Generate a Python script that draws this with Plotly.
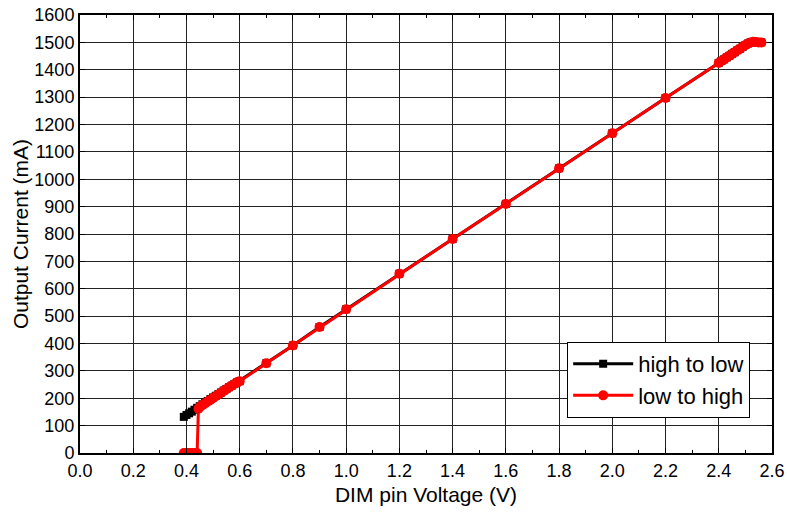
import plotly.graph_objects as go

# high to low sweep (black squares)
v_hl = [2.56, 2.55, 2.54, 2.53, 2.52, 2.51, 2.50, 2.49, 2.48, 2.47, 2.46, 2.45, 2.44, 2.43, 2.42, 2.41, 2.40,
        2.2, 2.0, 1.8, 1.6, 1.4, 1.2, 1.0, 0.9, 0.8, 0.7, 0.6,
        0.59, 0.58, 0.57, 0.56, 0.55, 0.54, 0.53, 0.52, 0.51, 0.50, 0.49, 0.48, 0.47, 0.46, 0.45, 0.44,
        0.43, 0.42, 0.41, 0.40, 0.39]
i_hl = [1500, 1500, 1501, 1502, 1500, 1496, 1490, 1484, 1477, 1471, 1464, 1458, 1451, 1445, 1438, 1432, 1425,
        1297, 1168, 1040, 910, 782, 655, 525, 460, 393, 328, 262,
        258, 252, 246, 240, 234, 228, 221, 215, 209, 203, 197, 190, 184, 178, 171, 165,
        158, 151, 145, 139, 132]

# low to high sweep (red circles)
v_lh = [0.39, 0.40, 0.41, 0.42, 0.43, 0.44, 0.445,
        0.45, 0.46, 0.47, 0.48, 0.49, 0.50, 0.51, 0.52, 0.53, 0.54, 0.55, 0.56, 0.57, 0.58, 0.59, 0.60,
        0.7, 0.8, 0.9, 1.0, 1.2, 1.4, 1.6, 1.8, 2.0, 2.2, 2.40,
        2.41, 2.42, 2.43, 2.44, 2.45, 2.46, 2.47, 2.48, 2.49, 2.50, 2.51, 2.52, 2.53, 2.54, 2.55, 2.56]
i_lh = [0, 0, 0, 0, 0, 0, 162,
        168, 175, 181, 188, 194, 201, 207, 214, 220, 227, 233, 240, 246, 252, 258, 262,
        328, 393, 460, 525, 655, 782, 910, 1040, 1168, 1297, 1425,
        1432, 1438, 1445, 1451, 1458, 1464, 1471, 1477, 1484, 1490, 1496, 1500, 1502, 1501, 1500, 1500]

x_ticks = [0.0, 0.2, 0.4, 0.6, 0.8, 1.0, 1.2, 1.4, 1.6, 1.8, 2.0, 2.2, 2.4, 2.6]
y_ticks = list(range(0, 1700, 100))

fig = go.Figure()
fig.add_trace(go.Scatter(x=v_hl, y=i_hl, mode="lines+markers", name="high to low",
                         line=dict(color="black", width=3),
                         marker=dict(symbol="square", size=8, color="black")))
fig.add_trace(go.Scatter(x=v_lh, y=i_lh, mode="lines+markers", name="low to high",
                         line=dict(color="#ff0000", width=3),
                         marker=dict(symbol="circle", size=10, color="#ff0000")))

font_family = "Liberation Sans, Arial, sans-serif"
fig.update_layout(
    width=787, height=513,
    margin=dict(l=80, r=15, t=15, b=60, autoexpand=False),
    paper_bgcolor="white", plot_bgcolor="white",
    font=dict(family=font_family, size=18, color="black"),
    showlegend=True,
    legend=dict(x=0.704, y=0.08, xanchor="left", yanchor="bottom",
                bgcolor="white", bordercolor="black", borderwidth=1,
                font=dict(size=22), tracegroupgap=0, itemwidth=60),
)
fig.update_xaxes(
    range=[0, 2.6], tickvals=x_ticks, ticktext=[f"{t:.1f}" for t in x_ticks],
    automargin=False,
    showgrid=True, gridcolor="#222222", gridwidth=1,
    showline=True, linecolor="black", linewidth=2, mirror="ticks",
    ticks="inside", ticklen=5, tickcolor="black",
    tickfont=dict(size=18),
    minor=dict(dtick=0.1, ticks="inside", ticklen=3, tickcolor="black", showgrid=False),
    zeroline=False,
    title=dict(text="DIM pin Voltage (V)", font=dict(size=21), standoff=8),
)
fig.update_yaxes(
    range=[0, 1600], tickvals=y_ticks,
    automargin=False,
    showgrid=True, gridcolor="#222222", gridwidth=1,
    showline=True, linecolor="black", linewidth=2, mirror="ticks",
    ticks="inside", ticklen=5, tickcolor="black",
    tickfont=dict(size=18),
    zeroline=False,
    title=dict(text="Output Current (mA)", font=dict(size=21), standoff=0),
)

fig.write_html("out.html", config={"displayModeBar": False})

# remove the default page margin so the figure fills the window exactly
with open("out.html", "r", encoding="utf-8") as f:
    html = f.read()
html = html.replace("<body>", '<body style="margin:0;padding:0;overflow:hidden;">', 1)
with open("out.html", "w", encoding="utf-8") as f:
    f.write(html)
